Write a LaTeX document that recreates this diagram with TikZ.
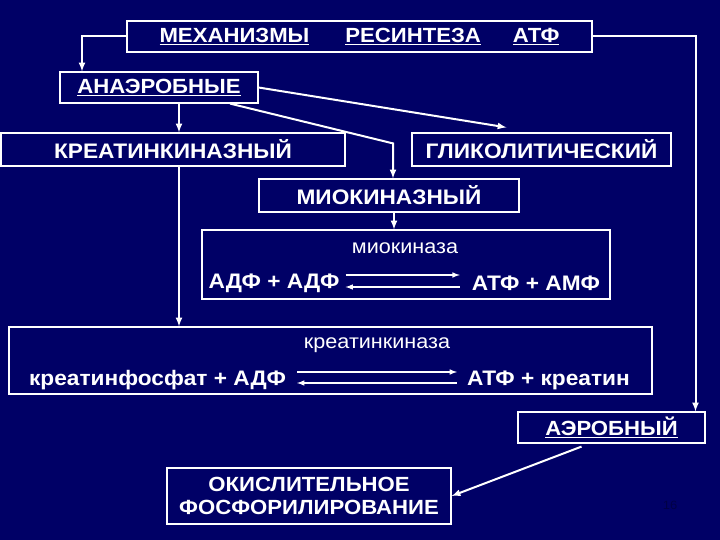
\documentclass[tikz,border=0pt]{standalone}
\usepackage{fontspec}
\setmainfont[FakeStretch=1.08]{Liberation Sans}
\usetikzlibrary{shapes,arrows}
\definecolor{bgblue}{RGB}{0,0,102}
\definecolor{numblue}{RGB}{0,0,70}

\begin{document}
\begin{tikzpicture}[x=1pt, y=-1pt, >=latex,
	box/.style={rectangle, draw=white, line width=1.2pt, inner sep=0pt, text=white, font=\bfseries\fontsize{21}{25}\selectfont},
	hbox/.style={box, font=\bfseries\fontsize{20.5}{24}\selectfont},
	txt/.style={text=white, inner sep=0pt, font=\bfseries\fontsize{21}{24}\selectfont},
	enz/.style={text=white, inner sep=0pt, font=\fontsize{20}{23}\selectfont},
	link/.style={draw=white, line width=2pt, ->},
	react/.style={draw=white, line width=1.5pt, ->}]
		\fill[bgblue] (0,0) rectangle (720,540);
		\useasboundingbox (0,0) rectangle (720,540);

		\node (mech)[hbox, minimum width=465, minimum height=31] at (359.5,36.5) {\underline{МЕХАНИЗМЫ}\hspace{36pt}\underline{РЕСИНТЕЗА}\hspace{32pt}\underline{АТФ}};
		\node (anaer)[hbox, minimum width=198, minimum height=31] at (159,87.5) {\underline{АНАЭРОБНЫЕ}};
		\node (kreat)[box, minimum width=344, minimum height=33] at (173,149.5) {КРЕАТИНКИНАЗНЫЙ};
		\node (glik)[box, minimum width=259, minimum height=33] at (541.5,149.5) {ГЛИКОЛИТИЧЕСКИЙ};
		\node (miok)[box, minimum width=260, minimum height=33] at (389,195.5) {МИОКИНАЗНЫЙ};
		\node (miobox)[box, minimum width=408, minimum height=69] at (406,264.5) {};
		\node (krbox)[box, minimum width=643, minimum height=67] at (330.5,360.5) {};
		\node (aerob)[hbox, minimum width=187, minimum height=31] at (611.5,427.5) {\underline{АЭРОБНЫЙ}};
		\node (okis)[box, minimum width=284, minimum height=56, align=center, font=\bfseries\fontsize{20.5}{23}\selectfont] at (309,496) {ОКИСЛИТЕЛЬНОЕ\\ФОСФОРИЛИРОВАНИЕ};

		\node (mk)[enz] at (405,248) {миокиназа};
		\node (adf)[txt] at (274,283) {АДФ + АДФ};
		\node (atfamf)[txt] at (536,283) {АТФ + АМФ};
		\node (kk)[enz] at (377,345) {креатинкиназа};
		\node (kf)[txt] at (157.5,380) {креатинфосфат + АДФ};
		\node (atfkr)[txt] at (548.5,380) {АТФ + креатин};
		\node (num)[text=numblue, font=\fontsize{12}{14}\selectfont] at (670,505) {16};

		\draw[link] (mech.west) -| ([xshift=-77]anaer.north);
		\draw[link] (mech.east) -| ([xshift=84]aerob.north);
		\draw[link] ([xshift=20]anaer.south) -- ([xshift=20]anaer.south |- kreat.north);
		\draw[link] (anaer.east) -- ([shift={(-35,-5)}]glik.north);
		\draw[link] ([xshift=71]anaer.south) -- ([shift={(4,-35)}]miok.north) -- ([xshift=4]miok.north);
		\draw[link] ([xshift=6]kreat.south) -- ([xshift=6]kreat.south |- krbox.north);
		\draw[link] ([xshift=5]miok.south) -- ([xshift=5]miok.south |- miobox.north);
		\draw[link] ([shift={(-30,3)}]aerob.south) -- (okis.east);

		\draw[react] ([shift={(6,-8)}]adf.east) -- ([shift={(-12,-8)}]atfamf.west);
		\draw[react] ([shift={(-12,4)}]atfamf.west) -- ([shift={(6,4)}]adf.east);
		\draw[react] ([shift={(11,-8)}]kf.east) -- ([shift={(-10,-8)}]atfkr.west);
		\draw[react] ([shift={(-10,3)}]atfkr.west) -- ([shift={(11,3)}]kf.east);
\end{tikzpicture}
\end{document}
